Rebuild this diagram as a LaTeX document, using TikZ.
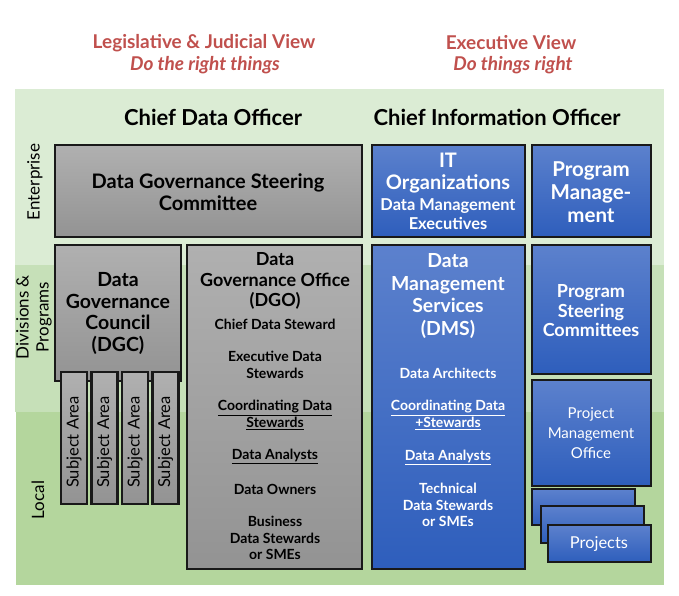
\documentclass[tikz,border=0pt]{standalone}
\usepackage{fontspec}
\setmainfont{Lato}

\definecolor{viewred}{RGB}{192,80,77}
\definecolor{entgreen}{RGB}{219,236,212}
\definecolor{divgreen}{RGB}{198,224,184}
\definecolor{locgreen}{RGB}{180,214,157}
\definecolor{graytop}{RGB}{176,176,176}
\definecolor{graybot}{RGB}{147,147,147}
\definecolor{bluetop}{RGB}{92,129,205}
\definecolor{bluebot}{RGB}{46,94,188}

\newcommand{\fsz}[2]{\fontsize{#1}{#2}\selectfont}

\begin{document}
\begin{tikzpicture}[x=1pt,y=-1pt,
	graybox/.style={draw=black!90, line width=2.2pt, top color=graytop, bottom color=graybot},
	bluebox/.style={draw=black!90, line width=2.2pt, top color=bluetop, bottom color=bluebot},
	txt/.style={align=center, inner sep=0pt},
	btxt/.style={txt, font=\bfseries},
	wtxt/.style={btxt, text=white}]
	\useasboundingbox (0,0) rectangle (679,595);
	% levels
	\fill[entgreen] (15,89) rectangle (664,265);
	\fill[divgreen] (15,265) rectangle (664,412);
	\fill[locgreen] (16,412) rectangle (664,585);
	\node[txt, rotate=90, font=\fsz{17}{20}] (enterprise) at (35,182) {Enterprise};
	\node[txt, rotate=90, font=\fsz{17}{20}] (divisions) at (34,317) {Divisions \&\\Programs};
	\node[txt, rotate=90, font=\fsz{17}{20}] (local) at (38,500) {Local};
	% views
	\node[btxt, text=viewred, font=\fsz{19}{22}\bfseries] (legview) at (204,43) {Legislative \& Judicial View};
	\node[btxt, text=viewred, font=\fsz{19}{22}\bfseries\itshape] (legdo) at (205,65) {Do the right things};
	\node[btxt, text=viewred, font=\fsz{19}{22}\bfseries] (exeview) at (511,43) {Executive View};
	\node[btxt, text=viewred, font=\fsz{19}{22}\bfseries\itshape] (exedo) at (513,65) {Do things right};
	\node[btxt, font=\fsz{22}{24}\bfseries] (cdo) at (213,117) {Chief Data Officer};
	\node[btxt, font=\fsz{22}{24}\bfseries] (cio) at (497,117) {Chief Information Officer};
	% data governance side
	\draw[graybox] (55,145) rectangle (362,237);
	\node[btxt, font=\fsz{20}{22}\bfseries] (dgsc) at (208,192) {Data Governance Steering\\Committee};
	\draw[graybox] (55,245) rectangle (181,381);
	\node[btxt, font=\fsz{19.5}{21.7}\bfseries] (dgc) at (118,313.5) {Data\\Governance\\Council\\(DGC)};
	\foreach \x [count=\i] in {61,91.5,122,152.5} {
		\draw[graybox] (\x,372) rectangle ++(26,132);
		\node[txt, rotate=90, font=\fsz{16.5}{18}] (sa\i) at (\x+13,442) {Subject Area};
	}
	\draw[graybox] (187,245) rectangle (362,569);
	\node[btxt, font=\fsz{18}{20.5}\bfseries] (dgo) at (275,281) {Data\\Governance Office\\(DGO)};
	\node[btxt, font=\fsz{14}{16.5}\bfseries] (cds) at (275,324) {Chief Data Steward};
	\node[btxt, font=\fsz{14}{16.5}\bfseries] (eds) at (275,365) {Executive Data\\Stewards};
	\node[btxt, font=\fsz{14}{16.5}\bfseries] (cods) at (275,415) {\underline{Coordinating Data}\\\underline{Stewards}};
	\node[btxt, font=\fsz{14}{16.5}\bfseries] (da) at (275,456) {\underline{Data Analysts}};
	\node[btxt, font=\fsz{14}{16.5}\bfseries] (dow) at (275,489) {Data Owners};
	\node[btxt, font=\fsz{14}{16.5}\bfseries] (bds) at (275,538) {Business\\Data Stewards\\or SMEs};
	% information side
	\draw[bluebox] (372,145) rectangle (525,237);
	\node[wtxt, font=\fsz{20}{22}\bfseries] (itorg) at (448,173) {IT\\Organizations};
	\node[wtxt, font=\fsz{16.4}{19}\bfseries] (dme) at (448,214.5) {Data Management\\Executives};
	\draw[bluebox] (532,145) rectangle (651,237);
	\node[wtxt, font=\fsz{20.5}{23}\bfseries] (pm) at (591,192) {Program\\Manage-\\ment};
	\draw[bluebox] (372,245) rectangle (525,569);
	\node[wtxt, font=\fsz{19.4}{22.7}\bfseries] (dms) at (448,296) {Data\\Management\\Services\\(DMS)};
	\node[wtxt, font=\fsz{14}{16.5}\bfseries] (arch) at (448,373) {Data Architects};
	\node[wtxt, font=\fsz{14}{16.5}\bfseries] (codst) at (448,415) {\underline{Coordinating Data}\\\underline{+Stewards}};
	\node[wtxt, font=\fsz{14}{16.5}\bfseries] (dan) at (448,457) {\underline{Data Analysts}};
	\node[wtxt, font=\fsz{14}{16.5}\bfseries] (tds) at (448,505) {Technical\\Data Stewards\\or SMEs};
	\draw[bluebox] (532,245) rectangle (651,374);
	\node[wtxt, font=\fsz{18}{19.5}\bfseries] (psc) at (591,311) {Program\\Steering\\Committees};
	\draw[bluebox] (532,380) rectangle (651,486);
	\node[txt, text=white, font=\fsz{15}{20}] (pmo) at (591,433) {Project\\Management\\Office};
	\draw[bluebox] (532,489) rectangle (635,525);
	\draw[bluebox] (541,506) rectangle (644,543);
	\draw[bluebox] (548,525) rectangle (651,562);
	\node[txt, text=white, font=\fsz{16.4}{18}] (proj) at (599,544) {Projects};
\end{tikzpicture}
\end{document}
